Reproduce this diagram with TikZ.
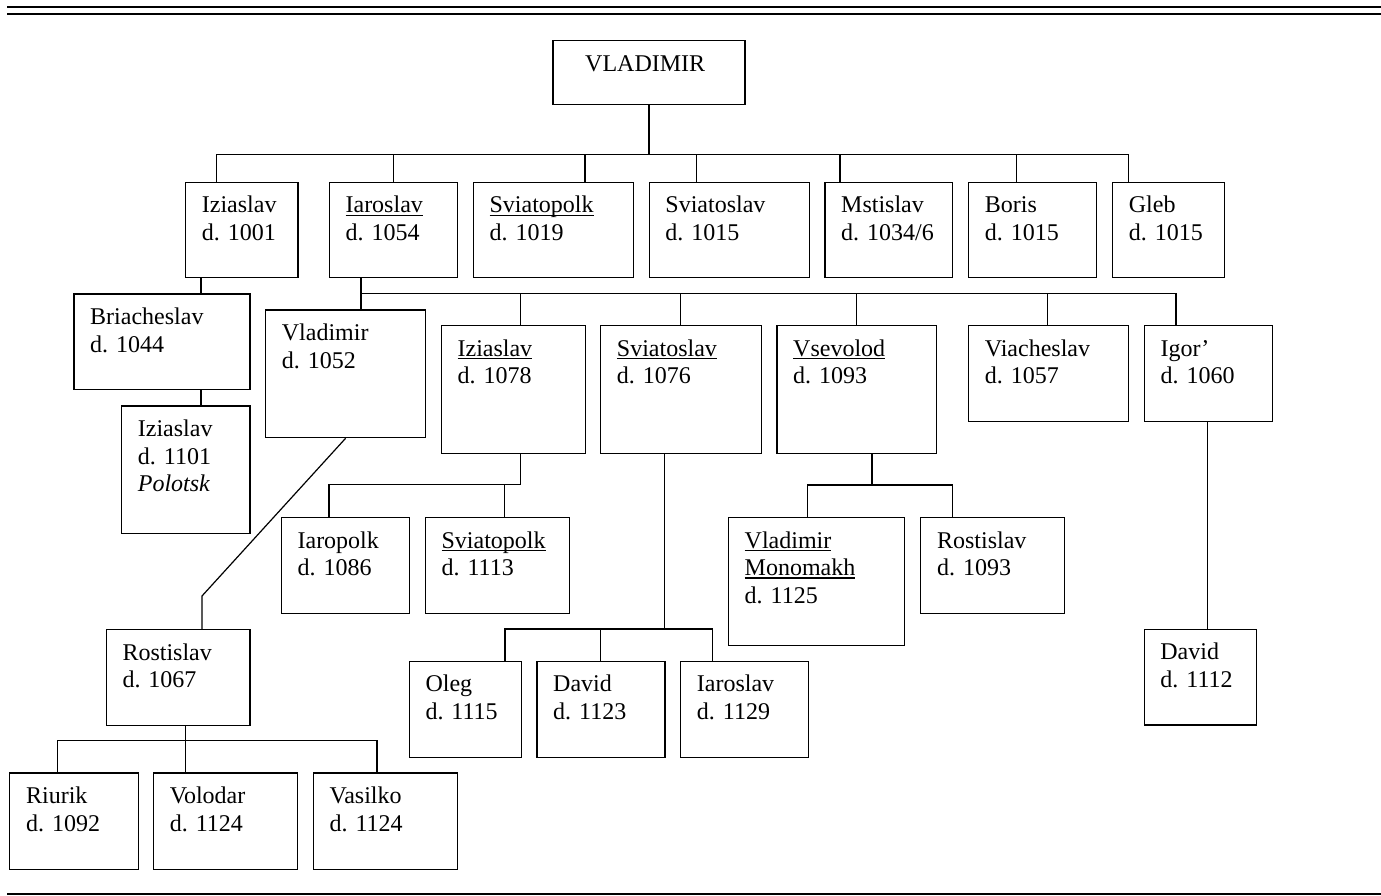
\documentclass[tikz,border=0pt]{standalone}
\usepackage{fontspec}
\setmainfont{Liberation Serif}
\newcommand\ulw[1]{\setbox0\hbox{#1}\rlap{\rule[-3.2pt]{\wd0}{1.5pt}}\box0}
\tikzset{
  famb/.style={draw=black, line width=1.25pt, inner sep=0pt, anchor=north west},
  lbl/.style={anchor=north west, inner sep=0pt, align=left,
    font=\fontsize{24}{27.5}\selectfont},
  conn/.style={draw=black, line width=1.2pt},
  rulel/.style={draw=black, line width=2.2pt}
}
% name, x1, y1, x2, y2, text
\newcommand\famnode[6]{%
  \node[famb, minimum width={(#4-#2)*1pt}, minimum height={(#5-#3)*1pt}] (#1) at (#2,#3) {};
  \node[lbl] (#1t) at ([xshift=16.7pt,yshift=-11pt]#1.north west) {\rule{0pt}{20pt}#6};}
\begin{document}
\begin{tikzpicture}[x=1pt,y=-1pt]
\useasboundingbox (0,0) rectangle (1381,896);
% rules
\draw[rulel] (7,6.7) -- (1381,6.7);
\draw[rulel] (7,13.7) -- (1381,13.7);
\draw[rulel] (7,894.3) -- (1381,894.3);

% generation 0
\node[famb, minimum width=192pt, minimum height=64pt] (v0) at (552.3,39.7) {};
\node[lbl] (v0t) at ([xshift=32.7pt,yshift=-12pt]v0.north west) {\rule{0pt}{20pt}VLADIMIR};

% generation 1
\famnode{iz1}{185}{181.7}{297.3}{277}{Iziaslav\\d. 1001}
\famnode{ia1}{328.7}{181.7}{456.7}{277}{\ulw{Iaroslav}\\d. 1054}
\famnode{sp1}{472.7}{181.7}{632.7}{277}{\ulw{Sviatopolk}\\d. 1019}
\famnode{sv1}{648.5}{181.7}{808.7}{277}{Sviatoslav\\d. 1015}
\famnode{ms1}{824.3}{181.7}{951.9}{277}{Mstislav\\d. 1034/6}
\famnode{bo1}{968}{181.7}{1096}{277}{Boris\\d. 1015}
\famnode{gl1}{1112}{181.7}{1224}{277}{Gleb\\d. 1015}

% line of Iziaslav
\famnode{br2}{73.3}{293.3}{249.3}{389}{Briacheslav\\d. 1044}
\famnode{iz3}{121}{405.3}{249.3}{533}{Iziaslav\\d. 1101\\\textit{Polotsk}}

% children of Iaroslav
\famnode{vl2}{265}{309.3}{425}{437}{Vladimir\\d. 1052}
\famnode{iz2}{440.7}{325}{585}{453}{\ulw{Iziaslav}\\d. 1078}
\famnode{sv2}{600}{325}{760.5}{453}{\ulw{Sviatoslav}\\d. 1076}
\famnode{vs2}{776.3}{325}{936}{453}{\ulw{Vsevolod}\\d. 1093}
\famnode{vi2}{968}{325}{1127.8}{421}{Viacheslav\\d. 1057}
\famnode{ig2}{1143.6}{325}{1271.5}{421}{Igor’\\d. 1060}

% line of Vladimir
\famnode{ro3}{105.6}{629}{249.3}{724.7}{Rostislav\\d. 1067}
\famnode{ri4}{9.2}{772.3}{137.7}{868.7}{Riurik\\d. 1092}
\famnode{vo4}{152.9}{772.3}{297}{868.7}{Volodar\\d. 1124}
\famnode{va4}{312.7}{772.3}{456.8}{868.7}{Vasilko\\d. 1124}

% children of Iziaslav (d. 1078)
\famnode{ip3}{280.7}{517}{409}{613}{Iaropolk\\d. 1086}
\famnode{sp3}{424.7}{517}{569}{613}{\ulw{Sviatopolk}\\d. 1113}

% children of Sviatoslav (d. 1076)
\famnode{ol3}{408.6}{660.5}{521.1}{756.7}{Oleg\\d. 1115}
\famnode{da3}{536.3}{660.5}{664.4}{756.7}{David\\d. 1123}
\famnode{ia3}{680}{660.5}{808.2}{756.7}{Iaroslav\\d. 1129}

% children of Vsevolod
\famnode{vm3}{727.8}{517}{904.2}{645}{\ulw{Vladimir}\\\ulw{Monomakh}\\d. 1125}
\famnode{rs3}{920.2}{517}{1064}{612.7}{Rostislav\\d. 1093}

% child of Igor
\famnode{dv3}{1143.5}{628.7}{1255.6}{724.3}{David\\d. 1112}

% ---------- connectors ----------
\coordinate (bar1) at (648.5,154.3);
\draw[conn] (v0.south) -- (v0.south |- bar1);
\draw[conn] ([xshift=31.7pt]iz1.north west) |- (bar1);
\draw[conn] (ia1.north) |- (bar1);
\draw[conn] ([xshift=112.3pt]sp1.north west) |- (bar1);
\draw[conn] ([xshift=48.2pt]sv1.north west) |- (bar1);
\draw[conn] ([xshift=15.6pt]ms1.north west) |- (bar1);
\draw[conn] ([xshift=48.2pt]bo1.north west) |- (bar1);
\draw[conn] ([xshift=16.2pt]gl1.north west) |- (bar1);

\draw[conn] ([xshift=16pt]iz1.south west) -- ([xshift=127.7pt]br2.north west);
\draw[conn] ([xshift=127.7pt]br2.south west) -- ([xshift=80pt]iz3.north west);

\coordinate (bar2) at (361,293.3);
\draw[conn] ([xshift=32.3pt]ia1.south west) -- ([xshift=96pt]vl2.north west);
\draw[conn] ([xshift=80pt]iz2.north west) |- (bar2);
\draw[conn] ([xshift=80.6pt]sv2.north west) |- (bar2);
\draw[conn] ([xshift=80.1pt]vs2.north west) |- (bar2);
\draw[conn] ([xshift=79.8pt]vi2.north west) |- (bar2);
\draw[conn] ([xshift=32.4pt]ig2.north west) |- (bar2);

\coordinate (bend) at (202,596);
\draw[conn] (vl2.south) -- (bend) -- ([xshift=96.4pt]ro3.north west);

\coordinate (bar3) at (185.5,740.7);
\draw[conn] ([xshift=79.9pt]ro3.south west) -- ([xshift=32.6pt]vo4.north west);
\draw[conn] ([xshift=48.2pt]ri4.north west) |- (bar3);
\draw[conn] ([xshift=64.3pt]va4.north west) |- (bar3);

\coordinate (bar4) at (520.7,484.7);
\draw[conn] ([xshift=80pt]iz2.south west) -- (bar4);
\draw[conn] ([xshift=48.3pt]ip3.north west) |- (bar4);
\draw[conn] ([xshift=80pt]sp3.north west) |- (bar4);

\coordinate (bar5) at (664.4,629);
\draw[conn] ([xshift=64.4pt]sv2.south west) -- (bar5);
\draw[conn] ([xshift=96.4pt]ol3.north west) |- (bar5);
\draw[conn] ([xshift=64.3pt]da3.north west) |- (bar5);
\draw[conn] ([xshift=32.2pt]ia3.north west) |- (bar5);

\coordinate (bar6) at (872,485);
\draw[conn] ([xshift=95.7pt]vs2.south west) -- (bar6);
\draw[conn] ([xshift=79.9pt]vm3.north west) |- (bar6);
\draw[conn] ([xshift=32.2pt]rs3.north west) |- (bar6);

\draw[conn] ([xshift=64.2pt]ig2.south west) -- ([xshift=64.3pt]dv3.north west);
\end{tikzpicture}
\end{document}
